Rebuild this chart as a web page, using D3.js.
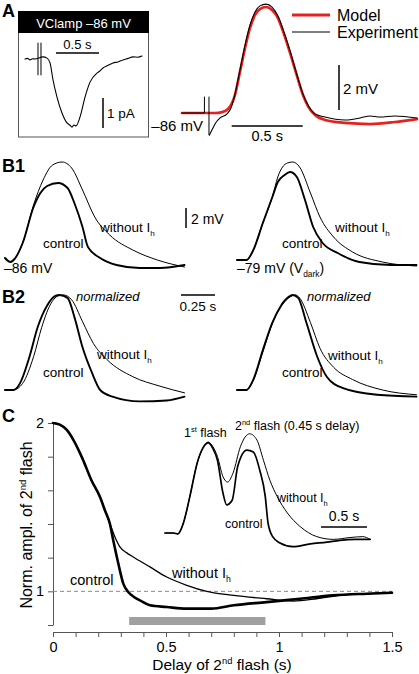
<!DOCTYPE html>
<html><head><meta charset="utf-8">
<script src="https://cdn.jsdelivr.net/npm/d3@7"></script>
<style>
body{margin:0;background:#fff}
svg{display:block}
text{font-family:"Liberation Sans",Arial,Helvetica,sans-serif;fill:#000}
</style>
</head><body>
<svg id="fig" width="419" height="674"></svg>
<script>
// ---------------- DATA ----------------
// Panel A left: voltage-clamp current (t in s, I in pA)
const vclampTrace = [[0,0],[0.03,0.02],[0.058,-0.03],[0.09,0.01],[0.116,0],[0.209,0.07],[0.256,0.03],[0.291,-0.13],[0.326,-0.7],[0.372,-1.27],[0.43,-1.8],[0.488,-2.13],[0.52,-2.2],[0.547,-2.27],[0.57,-2.2],[0.593,-2.23],[0.64,-1.93],[0.698,-1.27],[0.756,-0.77],[0.837,-0.47],[0.87,-0.4],[0.907,-0.3],[0.96,-0.22],[1.023,-0.13],[1.08,-0.1],[1.14,-0.03],[1.2,0.02],[1.256,0.07],[1.31,0.06],[1.36,0.1]];
const vclampArtifact = [[[0.151,0.53],[0.151,-0.53]],[[0.186,0.53],[0.186,-0.53]]];

// Panel A right: photovoltage (t in s, V in mV above -86 mV)
const modelTrace = [[0,0],[0.127,0],[0.232,0],[0.282,0.04],[0.324,0.18],[0.373,0.8],[0.408,1.82],[0.444,2.89],[0.479,3.78],[0.514,4.36],[0.549,4.62],[0.592,4.71],[0.634,4.58],[0.676,4.22],[0.711,3.64],[0.761,2.67],[0.810,1.64],[0.852,0.8],[0.887,0.31],[0.937,-0.09],[1.007,-0.31],[1.148,-0.44],[1.324,-0.49],[1.5,-0.4],[1.655,-0.27]];
const expTrace = [[0.193,-0.98],[0.218,-0.67],[0.239,-0.42],[0.268,-0.22],[0.317,-0.04],[0.345,0.22],[0.373,0.84],[0.408,1.91],[0.444,3.02],[0.479,3.91],[0.514,4.49],[0.549,4.76],[0.592,4.84],[0.634,4.71],[0.676,4.31],[0.711,3.73],[0.761,2.76],[0.810,1.69],[0.852,0.84],[0.887,0.36],[0.937,-0.04],[1.007,-0.18],[1.148,-0.31],[1.254,-0.22],[1.324,-0.13],[1.394,-0.18],[1.5,-0.13],[1.655,-0.22]];
const expArtifact = [[[0,0],[0.158,0],[0.158,0.71]],[[0.19,0.71],[0.19,-0.98],[0.193,-0.98]]];

// Panel B1 (t in s, V in mV above rest)
const b1LeftControl = [[0,0.2],[0.04,-0.2],[0.07,0.1],[0.13,1.7],[0.21,5.3],[0.26,6.7],[0.31,7.4],[0.39,7.7],[0.46,7.2],[0.51,5.7],[0.57,3.3],[0.61,1.3],[0.70,0.2],[0.82,-0.5],[0.99,-0.8],[1.14,-0.8],[1.32,-0.5]];
const b1LeftNoIh = [[0,0.2],[0.04,-0.2],[0.07,0.1],[0.13,1.7],[0.21,5.5],[0.28,8.0],[0.35,9.5],[0.42,9.8],[0.49,9.2],[0.57,7.0],[0.66,4.3],[0.77,2.5],[0.94,1.0],[1.12,0],[1.32,-0.7]];
const b1RightControl = [[0,0],[0.07,0],[0.12,1.0],[0.19,3.7],[0.26,6.3],[0.30,7.8],[0.35,8.5],[0.39,8.8],[0.44,8.3],[0.50,6.0],[0.56,3.3],[0.63,1.7],[0.74,0.7],[0.90,-0.2],[1.13,-0.5],[1.32,-0.5]];
const b1RightNoIh = [[0,0],[0.07,0],[0.12,1.0],[0.19,3.7],[0.26,6.3],[0.30,8.3],[0.37,9.7],[0.41,9.8],[0.46,9.3],[0.54,6.7],[0.61,4.3],[0.71,2.3],[0.85,0.8],[1.07,-0.2],[1.32,-0.6]];

// Panel B2 normalized (t in s, V / Vpeak)
const b2LeftControl = [[0,0],[0.06,0],[0.11,0.07],[0.18,0.35],[0.24,0.66],[0.31,0.89],[0.37,0.99],[0.40,1.0],[0.46,0.97],[0.51,0.77],[0.57,0.45],[0.64,0.18],[0.70,0],[0.79,-0.07],[0.99,-0.12],[1.19,-0.11],[1.32,-0.07]];
const b2LeftNoIh = [[0,0],[0.06,0],[0.13,0.07],[0.21,0.35],[0.27,0.66],[0.33,0.89],[0.39,0.99],[0.43,1.0],[0.49,0.95],[0.57,0.72],[0.65,0.49],[0.75,0.32],[0.94,0.14],[1.14,0.04],[1.32,-0.03]];
const b2RightControl = [[0,0],[0.07,0],[0.12,0.11],[0.19,0.42],[0.26,0.71],[0.32,0.88],[0.38,0.98],[0.41,1.0],[0.45,0.97],[0.51,0.71],[0.59,0.35],[0.66,0.14],[0.78,0.02],[1.03,-0.05],[1.32,-0.07]];
const b2RightNoIh = [[0,0],[0.07,0],[0.12,0.1],[0.19,0.4],[0.26,0.7],[0.32,0.87],[0.38,0.97],[0.43,1.0],[0.46,0.97],[0.54,0.71],[0.61,0.44],[0.71,0.24],[0.85,0.11],[1.07,0],[1.32,-0.05]];

// Panel C: normalized amplitude of 2nd flash vs delay (s)
const cControl = [[0,2.0],[0.03,1.99],[0.06,1.96],[0.09,1.9],[0.13,1.79],[0.17,1.66],[0.208,1.56],[0.23,1.48],[0.252,1.40],[0.267,1.30],[0.289,1.165],[0.311,1.046],[0.333,0.996],[0.36,0.965],[0.385,0.946],[0.429,0.917],[0.503,0.907],[0.59,0.897],[0.7,0.897],[0.8,0.917],[0.945,0.936],[1.093,0.956],[1.24,0.976],[1.39,0.986],[1.5,0.992]];
const cNoIh = [[0,2.0],[0.03,1.99],[0.06,1.96],[0.09,1.9],[0.13,1.79],[0.17,1.66],[0.208,1.56],[0.23,1.48],[0.252,1.40],[0.275,1.32],[0.296,1.264],[0.325,1.23],[0.355,1.204],[0.429,1.145],[0.503,1.085],[0.592,1.036],[0.68,1.0],[0.8,0.976],[0.945,0.956],[1.063,0.942],[1.167,0.956],[1.27,0.976],[1.39,0.986],[1.5,0.994]];
const cXTicks = [0,0.1,0.2,0.3,0.4,0.5,0.6,0.7,0.8,0.9,1.0,1.1,1.2,1.3,1.4,1.5];
const cXLabels = [0,0.5,1,1.5];
const cYTicks = [0.8,1.0,1.2,1.4,1.6,1.8,2.0];
const cYLabels = [1,2];
const grayBar = [0.337,0.94];
// Panel C inset: double-flash responses (t in s, V / 1st peak)
const insetNoIh = [[0,0],[0.09,0],[0.14,-0.01],[0.2,0.11],[0.27,0.4],[0.35,0.77],[0.41,0.93],[0.47,1.0],[0.52,0.95],[0.57,0.84],[0.63,0.62],[0.68,0.56],[0.74,0.66],[0.82,0.95],[0.92,1.09],[1.0,1.02],[1.07,0.8],[1.14,0.58],[1.22,0.4],[1.33,0.22],[1.47,0.07],[1.65,-0.04],[1.83,-0.07],[2.01,-0.05],[2.15,-0.04],[2.23,-0.07]];
const insetControl = [[0,0],[0.09,0],[0.14,-0.01],[0.2,0.11],[0.27,0.4],[0.35,0.77],[0.41,0.93],[0.47,0.99],[0.52,0.93],[0.57,0.8],[0.63,0.44],[0.67,0.31],[0.73,0.36],[0.79,0.73],[0.89,0.91],[0.96,0.89],[1.03,0.69],[1.09,0.4],[1.12,0.11],[1.17,-0.04],[1.25,-0.11],[1.39,-0.15],[1.58,-0.12],[1.76,-0.1],[1.9,-0.08],[2.07,-0.07],[2.23,-0.07]];

// ---------------- DRAW ----------------
const svg = d3.select("#fig");
const FONT = '"Liberation Sans",Arial,Helvetica,sans-serif';

function rich(g, x, y, parts, size, attrs) {
  const t = g.append("text").attr("x", x).attr("y", y).attr("font-size", size);
  if (attrs) for (const k in attrs) t.attr(k, attrs[k]);
  let cur = 0;
  parts.forEach(p => {
    const target = p.sub ? size * 0.28 : p.sup ? -size * 0.38 : 0;
    const s = t.append("tspan").text(p.t);
    if (target - cur !== 0) s.attr("dy", target - cur);
    if (p.sub || p.sup) s.attr("font-size", size * 0.6);
    cur = target;
  });
  return t;
}
function trace(g, data, xs, ys, w, color, curve) {
  g.append("path").datum(data)
    .attr("d", d3.line().x(d => xs(d[0])).y(d => ys(d[1])).curve(curve || d3.curveMonotoneX))
    .attr("fill", "none").attr("stroke", color || "#000").attr("stroke-width", w)
    .attr("stroke-linejoin", "round").attr("stroke-linecap", "round");
}
function seg(g, x1, y1, x2, y2, w, color) {
  g.append("line").attr("x1", x1).attr("y1", y1).attr("x2", x2).attr("y2", y2)
    .attr("stroke", color || "#000").attr("stroke-width", w);
}
function panelLabel(txt, x, y) {
  svg.append("text").attr("x", x).attr("y", y).attr("font-size", 18).attr("font-weight", "bold").text(txt);
}

// ----- Panel A left -----
const gA1 = svg.append("g");
const xA1 = d3.scaleLinear().domain([0, 1]).range([25, 111]);
const yA1 = d3.scaleLinear().domain([0, 1]).range([59, 29]);
gA1.append("rect").attr("x", 18.5).attr("y", 11.5).attr("width", 130).attr("height", 125.5)
  .attr("fill", "none").attr("stroke", "#555").attr("stroke-width", 1);
gA1.append("rect").attr("x", 18).attr("y", 11).attr("width", 131).attr("height", 22).attr("fill", "#000");
gA1.append("text").attr("x", 83.5).attr("y", 28).attr("font-size", 13).attr("text-anchor", "middle")
  .style("fill", "#fff").text("VClamp –86 mV");
trace(gA1, vclampTrace, xA1, yA1, 1.1);
vclampArtifact.forEach(a => trace(gA1, a, xA1, yA1, 1, "#000", d3.curveLinear));
seg(gA1, xA1(0.36), 53, xA1(0.86), 53, 1.5);
gA1.append("text").attr("x", xA1(0.61)).attr("y", 49).attr("font-size", 13).attr("text-anchor", "middle").text("0.5 s");
seg(gA1, xA1(0.907), yA1(-1.3), xA1(0.907), yA1(-2.3), 1.5);
gA1.append("text").attr("x", 107).attr("y", 118).attr("font-size", 13.5).text("1 pA");

// ----- Panel A right -----
const gA2 = svg.append("g");
const xA2 = d3.scaleLinear().domain([0, 1]).range([182, 324]);
const yA2 = d3.scaleLinear().domain([0, 1]).range([113, 90.5]);
trace(gA2, modelTrace, xA2, yA2, 2.7, "#e8211f");
expArtifact.forEach(a => trace(gA2, a, xA2, yA2, 1, "#000", d3.curveLinear));
trace(gA2, expTrace, xA2, yA2, 1.1, "#000");
gA2.append("text").attr("x", 203).attr("y", 131).attr("font-size", 15).attr("text-anchor", "end").text("–86 mV");
seg(gA2, xA2(0.35), 126, xA2(0.85), 126, 1.5);
gA2.append("text").attr("x", xA2(0.6)).attr("y", 141).attr("font-size", 14.5).attr("text-anchor", "middle").text("0.5 s");
seg(gA2, 339, yA2(0.133), 339, yA2(2.133), 1.5);
gA2.append("text").attr("x", 343).attr("y", 94).attr("font-size", 15).text("2 mV");
// legend
seg(gA2, 292, 15, 330, 15, 3, "#e8211f");
gA2.append("text").attr("x", 337).attr("y", 21).attr("font-size", 16).text("Model");
seg(gA2, 292, 32, 330, 32, 1.1, "#000");
gA2.append("text").attr("x", 337).attr("y", 38).attr("font-size", 16).text("Experiment");
panelLabel("A", 2, 17);

// ----- Panel B -----
const xBL = d3.scaleLinear().domain([0, 1]).range([5, 141]);
const xBR = d3.scaleLinear().domain([0, 1]).range([237, 373]);
const yB1 = d3.scaleLinear().domain([0, 1]).range([260, 250]);
const yB2 = d3.scaleLinear().domain([0, 1]).range([390, 295]);
const gB = svg.append("g");
trace(gB, b1LeftNoIh, xBL, yB1, 1);
trace(gB, b1LeftControl, xBL, yB1, 1.9);
trace(gB, b1RightNoIh, xBR, yB1, 1);
trace(gB, b1RightControl, xBR, yB1, 1.9);
trace(gB, b2LeftNoIh, xBL, yB2, 1);
trace(gB, b2LeftControl, xBL, yB2, 1.9);
trace(gB, b2RightNoIh, xBR, yB2, 1);
trace(gB, b2RightControl, xBR, yB2, 1.9);

panelLabel("B1", 2, 172);
panelLabel("B2", 2, 303);
// B1 labels
rich(gB, 100, 232, [{t: "without I"}, {t: "h", sub: true}], 13.5);
gB.append("text").attr("x", 43).attr("y", 248).attr("font-size", 13.5).text("control");
gB.append("text").attr("x", 4).attr("y", 273).attr("font-size", 14).text("–86 mV");
rich(gB, 335, 232, [{t: "without I"}, {t: "h", sub: true}], 13.5);
gB.append("text").attr("x", 282).attr("y", 248).attr("font-size", 13.5).text("control");
rich(gB, 237, 273, [{t: "–79 mV (V"}, {t: "dark", sub: true}, {t: ")"}], 14);
seg(gB, xBL(1.331), yB1(5.2), xBL(1.331), yB1(3.2), 1.5);
gB.append("text").attr("x", 191).attr("y", 224).attr("font-size", 14).text("2 mV");
// B2 labels
gB.append("text").attr("x", 76).attr("y", 301).attr("font-size", 13).attr("font-style", "italic").text("normalized");
gB.append("text").attr("x", 307).attr("y", 301).attr("font-size", 13).attr("font-style", "italic").text("normalized");
rich(gB, 97, 359, [{t: "without I"}, {t: "h", sub: true}], 13.5);
gB.append("text").attr("x", 43).attr("y", 377).attr("font-size", 13.5).text("control");
rich(gB, 328, 360, [{t: "without I"}, {t: "h", sub: true}], 13.5);
gB.append("text").attr("x", 282).attr("y", 377).attr("font-size", 13.5).text("control");
seg(gB, xBL(1.294), yB2(1.0), xBL(1.544), yB2(1.0), 1.5);
gB.append("text").attr("x", xBL(1.419)).attr("y", 311).attr("font-size", 13.5).attr("text-anchor", "middle").text("0.25 s");

// ----- Panel C -----
const gC = svg.append("g");
const xC = d3.scaleLinear().domain([0, 1.5]).range([53, 392]);
const yC = d3.scaleLinear().domain([0.8, 2]).range([625, 423]);
// axes
const yAxis = d3.axisLeft(yC).tickValues(cYTicks).tickSize(5).tickSizeOuter(0)
  .tickFormat(d => cYLabels.some(v => Math.abs(v - d) < 1e-9) ? d3.format("d")(d) : "");
const gyA = gC.append("g").attr("transform", "translate(53,0)").call(yAxis);
const xAxis = d3.axisBottom(xC).tickValues(cXTicks).tickSize(5).tickSizeOuter(0)
  .tickFormat(d => cXLabels.some(v => Math.abs(v - d) < 1e-9) ? String(+d.toFixed(1)) : "");
const gxA = gC.append("g").attr("transform", "translate(0,632)").call(xAxis);
[gyA, gxA].forEach(a => {
  a.selectAll("path,line").attr("stroke", "#555").attr("stroke-width", 1);
  a.selectAll("text").attr("font-size", 14.5).attr("font-family", FONT).attr("fill", "#000");
});
gxA.selectAll("text").attr("y", 10);
gyA.selectAll("text").attr("x", -9);
// reference line at 1
gC.append("line").attr("x1", xC(0)).attr("x2", xC(1.5)).attr("y1", yC(1)).attr("y2", yC(1))
  .attr("stroke", "#888").attr("stroke-width", 1).attr("stroke-dasharray", "4,3");
// gray bar
gC.append("rect").attr("x", xC(grayBar[0])).attr("width", xC(grayBar[1]) - xC(grayBar[0]))
  .attr("y", yC(0.8) - 8).attr("height", 8).attr("fill", "#a0a0a0");
trace(gC, cNoIh, xC, yC, 1.3);
trace(gC, cControl, xC, yC, 2.6);
gC.append("text").attr("x", 70).attr("y", 585).attr("font-size", 14.5).text("control");
rich(gC, 172, 578, [{t: "without I"}, {t: "h", sub: true}], 14.5);
// axis titles
rich(gC, 0, 0, [{t: "Norm. ampl. of 2"}, {t: "nd", sup: true}, {t: " flash"}], 16,
  {"text-anchor": "middle", transform: "translate(32,525) rotate(-90)"});
rich(gC, 222, 670, [{t: "Delay of 2"}, {t: "nd", sup: true}, {t: " flash (s)"}], 15.5, {"text-anchor": "middle"});
panelLabel("C", 2, 422);

// inset
const xI = d3.scaleLinear().domain([0, 1]).range([165, 257]);
const yI = d3.scaleLinear().domain([0, 1]).range([533, 442]);
trace(gC, insetNoIh, xI, yI, 1);
trace(gC, insetControl, xI, yI, 1.7);
rich(gC, 184, 437, [{t: "1"}, {t: "st", sup: true}, {t: " flash"}], 12.5);
rich(gC, 235, 430, [{t: "2"}, {t: "nd", sup: true}, {t: " flash (0.45 s delay)"}], 12.5);
rich(gC, 277, 502, [{t: "without I"}, {t: "h", sub: true}], 12.5);
gC.append("text").attr("x", 225).attr("y", 528).attr("font-size", 12.5).text("control");
seg(gC, xI(1.696), 527, xI(2.196), 527, 1.5);
gC.append("text").attr("x", xI(1.946)).attr("y", 521).attr("font-size", 14).attr("text-anchor", "middle").text("0.5 s");
</script>
</body></html>
